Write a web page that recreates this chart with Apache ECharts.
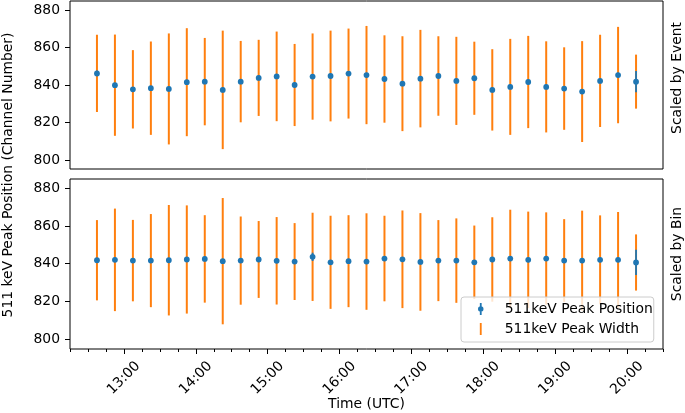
<!DOCTYPE html>
<html>
<head>
<meta charset="utf-8">
<script src="https://cdn.jsdelivr.net/npm/echarts@6/dist/echarts.min.js"></script>
<style>
html,body{margin:0;padding:0;background:#fff;}
#c{width:685px;height:413px;}
</style>
</head>
<body>
<div id="c"></div>
<script>
// ---- data ----
const times = ['12:37:30','12:52:30','13:07:30','13:22:30','13:37:30','13:52:30','14:07:30','14:22:30',
  '14:37:30','14:52:30','15:07:30','15:22:30','15:37:30','15:52:30','16:07:30','16:22:30',
  '16:37:30','16:52:30','17:07:30','17:22:30','17:37:30','17:52:30','18:07:30','18:22:30',
  '18:37:30','18:52:30','19:07:30','19:22:30','19:37:30','19:52:30','20:07:30'];

// Scaled by Event (top panel)
const eventPos = [846.2, 839.9, 837.7, 838.3, 837.9, 841.5, 841.8, 837.4, 841.8, 843.8, 844.6, 840.0, 844.5, 844.8, 846.1, 845.3,
  843.2, 840.7, 843.4, 844.8, 842.2, 843.6, 837.4, 839.0, 841.6, 839.0, 838.1, 836.5, 842.2, 845.3, 841.8];
const eventPosErr = [1.5, 1.2, 1.2, 1.2, 1.2, 1.2, 1.2, 1.2, 1.2, 1.2, 1.2, 1.2, 1.2, 1.2, 1.2, 1.2,
  1.2, 1.2, 1.2, 1.2, 1.2, 1.2, 1.2, 1.2, 1.2, 1.2, 1.2, 1.2, 1.2, 1.2, 5.7];
const eventWidth = [20.6, 27.0, 20.9, 24.9, 29.6, 28.8, 23.3, 31.6, 21.7, 20.3, 23.9, 21.9, 23.0, 24.2, 24.0, 26.2,
  23.3, 25.3, 26.0, 21.2, 23.5, 19.5, 21.7, 25.6, 24.6, 24.3, 22.0, 26.9, 24.6, 25.7, 14.4];

// Scaled by Bin (bottom panel)
const binPos = [841.8, 842.0, 841.6, 841.6, 841.8, 842.2, 842.5, 841.3, 841.6, 842.2, 841.5, 841.1, 843.6, 840.7, 841.3, 841.1,
  842.7, 842.3, 840.9, 841.6, 841.6, 840.7, 842.2, 842.7, 842.0, 842.7, 841.6, 841.6, 842.0, 842.0, 840.6];
const binPosErr = [1.2, 1.2, 1.2, 1.2, 1.2, 1.2, 1.2, 1.2, 1.2, 1.2, 1.2, 1.2, 2.2, 1.2, 1.2, 1.2,
  1.2, 1.2, 1.2, 1.2, 1.2, 1.2, 1.2, 1.2, 1.2, 1.2, 1.2, 1.2, 1.2, 1.2, 6.7];
const binWidth = [21.3, 27.2, 21.6, 24.7, 29.3, 28.7, 23.2, 33.5, 23.4, 20.4, 23.2, 20.4, 23.4, 24.7, 24.4, 25.6,
  22.7, 25.9, 25.9, 21.5, 22.4, 19.5, 22.4, 25.9, 25.6, 24.5, 22.0, 26.5, 23.6, 25.4, 14.9];

const yTicks = [800, 820, 840, 860, 880];
const xTickLabels = ['13:00','14:00','15:00','16:00','17:00','18:00','19:00','20:00'];
const xMinorLabels = ['12:15','12:30','12:45','13:15','13:30','13:45','14:15','14:30','14:45','15:15','15:30','15:45',
  '16:15','16:30','16:45','17:15','17:30','17:45','18:15','18:30','18:45','19:15','19:30','19:45','20:15','20:30'];
const xRange = ['12:15', '20:30'];

const posName = '511keV Peak Position';
const widthName = '511keV Peak Width';

// ---- helpers ----
function toMin(s){ const p = s.split(':').map(Number); return p[0]*60 + p[1] + (p[2]||0)/60; }
function fmtMin(v){ const h = Math.floor(v/60), m = Math.round(v - h*60); return h + ':' + (m<10?'0':'') + m; }
const tx = times.map(toMin);
const xMin = toMin(xRange[0]), xMax = toMin(xRange[1]);
const xMajor = xTickLabels.map(toMin);
const xMinor = xMinorLabels.map(toMin);

const BLUE = '#1f77b4', ORANGE = '#ff7f0e';
const FONT = 'DejaVu Sans';
const FS = 13.9;

function widthRender(params, api){
  const x = api.value(0), c = api.value(1), w = api.value(2);
  const p1 = api.coord([x, c - w]), p2 = api.coord([x, c + w]);
  return {type:'line', shape:{x1:p1[0], y1:p1[1], x2:p2[0], y2:p2[1]}, style:{stroke:ORANGE, lineWidth:2}};
}
function posRender(params, api){
  const x = api.value(0), c = api.value(1), e = api.value(2);
  const p1 = api.coord([x, c - e]), p2 = api.coord([x, c + e]), pc = api.coord([x, c]);
  return {type:'group', children:[
    {type:'line', shape:{x1:p1[0], y1:p1[1], x2:p2[0], y2:p2[1]}, style:{stroke:BLUE, lineWidth:1.8}},
    {type:'circle', shape:{cx:pc[0], cy:pc[1], r:2.9}, style:{fill:BLUE}}
  ]};
}

function yAxis(gi, min, max){
  return {
    type:'value', gridIndex:gi, min:min, max:max,
    splitLine:{show:false},
    axisLine:{show:false},
    axisTick:{show:true, length:5, customValues:yTicks, lineStyle:{color:'#000', width:1}},
    axisLabel:{show:true, customValues:yTicks, margin:10, color:'#000', fontFamily:FONT, fontSize:FS}
  };
}

const option = {
  animation:false,
  backgroundColor:'#fff',
  grid:[
    {left:70, right:22, top:1, height:168, show:true, borderColor:'#000', borderWidth:1, backgroundColor:'transparent'},
    {left:70, right:22, top:179, height:170, show:true, borderColor:'#000', borderWidth:1, backgroundColor:'transparent'}
  ],
  xAxis:[
    {type:'value', gridIndex:0, position:'bottom', min:xMin, max:xMax, axisLine:{show:false}, axisTick:{show:false}, axisLabel:{show:false}, splitLine:{show:false}},
    {type:'value', gridIndex:1, position:'bottom', min:xMin, max:xMax, axisLine:{show:false}, splitLine:{show:false},
      axisTick:{show:true, length:5, customValues:xMajor, lineStyle:{color:'#000', width:1}},
      axisLabel:{show:true, customValues:xMajor, formatter:fmtMin, rotate:45, align:'center', verticalAlign:'middle',
        margin:29, color:'#000', fontFamily:FONT, fontSize:FS}},
    {type:'value', gridIndex:1, position:'bottom', min:xMin, max:xMax, axisLine:{show:false}, splitLine:{show:false}, axisLabel:{show:false},
      axisTick:{show:true, length:3, customValues:xMinor, lineStyle:{color:'#000', width:1}}}
  ],
  yAxis:[ yAxis(0, 795.2, 884.8), yAxis(1, 794.7, 884.9) ],
  legend:{
    orient:'vertical', left:461, top:297,
    padding:[4, 1, 5, 17],
    itemGap:4, itemWidth:6, itemHeight:12,
    symbolKeepAspect:true,
    backgroundColor:'rgba(255,255,255,0.8)', borderColor:'#cccccc', borderWidth:1, borderRadius:3,
    textStyle:{fontFamily:FONT, fontSize:FS, color:'#000', padding:[0,0,0,16], lineHeight:16},
    z:20,
    data:[
      {name:posName, icon:'path://M-0.9,-6 L0.9,-6 L0.9,6 L-0.9,6 Z M-2.75,0 A2.75,2.75 0 1 1 2.75,0 A2.75,2.75 0 1 1 -2.75,0 Z'},
      {name:widthName, icon:'path://M-1,-6.5 L1,-6.5 L1,6.5 L-1,6.5 Z'}
    ]
  },
  series:[
    {type:'custom', name:widthName, xAxisIndex:0, yAxisIndex:0, z:2, itemStyle:{color:ORANGE},
      renderItem:widthRender, data:tx.map((x,i)=>[x, eventPos[i], eventWidth[i]])},
    {type:'custom', name:posName, xAxisIndex:0, yAxisIndex:0, z:3, itemStyle:{color:BLUE},
      renderItem:posRender, data:tx.map((x,i)=>[x, eventPos[i], eventPosErr[i]])},
    {type:'custom', name:widthName, xAxisIndex:1, yAxisIndex:1, z:2, itemStyle:{color:ORANGE},
      renderItem:widthRender, data:tx.map((x,i)=>[x, binPos[i], binWidth[i]])},
    {type:'custom', name:posName, xAxisIndex:1, yAxisIndex:1, z:3, itemStyle:{color:BLUE},
      renderItem:posRender, data:tx.map((x,i)=>[x, binPos[i], binPosErr[i]])}
  ],
  graphic:[
    {type:'text', x:8, y:175, rotation:Math.PI/2, style:{text:'511 keV Peak Position (Channel Number)', fontFamily:FONT, fontSize:FS, fill:'#000', align:'center', verticalAlign:'middle'}},
    {type:'text', x:677, y:78, rotation:Math.PI/2, style:{text:'Scaled by Event', fontFamily:FONT, fontSize:FS, fill:'#000', align:'center', verticalAlign:'middle'}},
    {type:'text', x:677, y:254, rotation:Math.PI/2, style:{text:'Scaled by Bin', fontFamily:FONT, fontSize:FS, fill:'#000', align:'center', verticalAlign:'middle'}},
    {type:'text', x:366.5, y:404, style:{text:'Time (UTC)', fontFamily:FONT, fontSize:FS, fill:'#000', align:'center', verticalAlign:'middle'}}
  ]
};
const chart = echarts.init(document.getElementById('c'), null, {renderer:'canvas'});
chart.setOption(option);
</script>
</body>
</html>
